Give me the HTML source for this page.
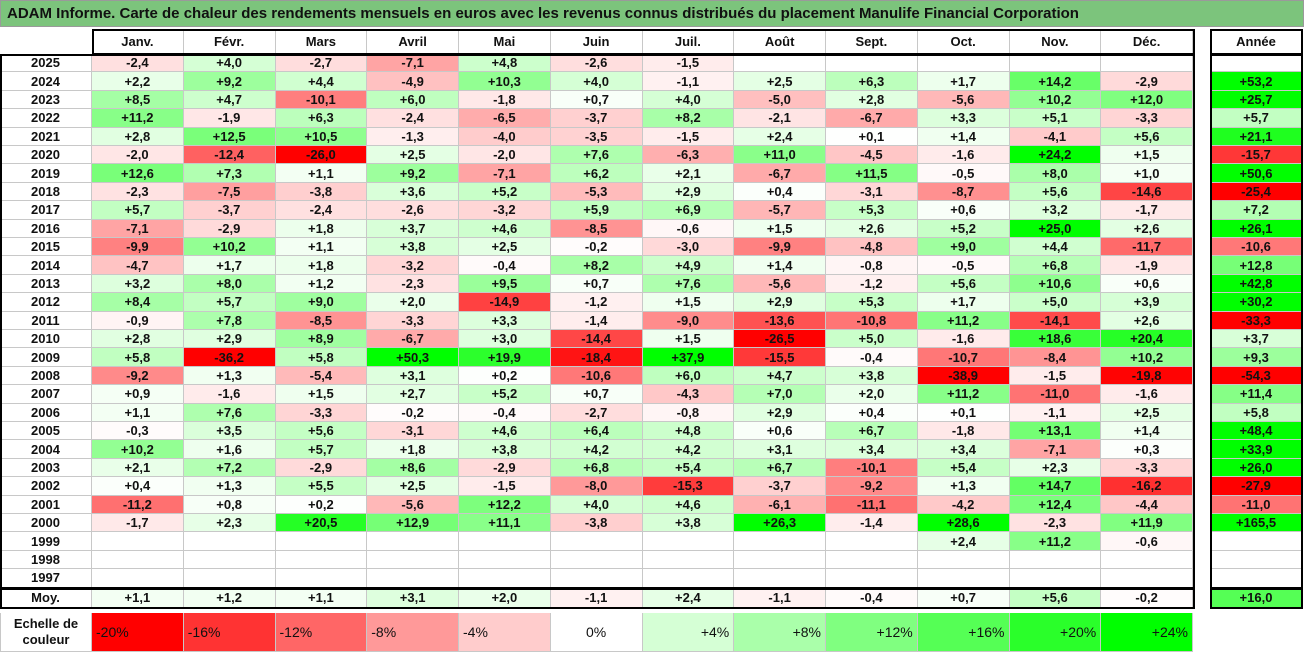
<!DOCTYPE html>
<html><head><meta charset="utf-8">
<style>
body{margin:0;width:1304px;height:652px;background:#fff;position:relative;overflow:hidden;font-family:"Liberation Sans",sans-serif;font-weight:bold;font-size:13px;color:#111}
.c{position:absolute;box-sizing:border-box;display:flex;align-items:center;justify-content:center;border-right:1px solid #c8c8c8;border-bottom:1px solid #c8c8c8}
.box{position:absolute;box-sizing:border-box;border:2px solid #000;pointer-events:none}
#title{position:absolute;left:0;top:0;width:1304px;height:27px;background:#7cc47c;border:1px solid #9a9a9a;box-sizing:border-box;font-size:15px;padding-left:6px;display:flex;align-items:center}
</style></head><body>
<div id="title">ADAM Informe. Carte de chaleur des rendements mensuels en euros avec les revenus connus distribués du placement Manulife Financial Corporation</div>
<div id="root"></div>
<script>
const months=["Janv.","Févr.","Mars","Avril","Mai","Juin","Juil.","Août","Sept.","Oct.","Nov.","Déc."];
const years=[2025,2024,2023,2022,2021,2020,2019,2018,2017,2016,2015,2014,2013,2012,2011,2010,2009,2008,2007,2006,2005,2004,2003,2002,2001,2000,1999,1998,1997];
const N=null;
const values=[
[-2.4,4.0,-2.7,-7.1,4.8,-2.6,-1.5,N,N,N,N,N],
[2.2,9.2,4.4,-4.9,10.3,4.0,-1.1,2.5,6.3,1.7,14.2,-2.9],
[8.5,4.7,-10.1,6.0,-1.8,0.7,4.0,-5.0,2.8,-5.6,10.2,12.0],
[11.2,-1.9,6.3,-2.4,-6.5,-3.7,8.2,-2.1,-6.7,3.3,5.1,-3.3],
[2.8,12.5,10.5,-1.3,-4.0,-3.5,-1.5,2.4,0.1,1.4,-4.1,5.6],
[-2.0,-12.4,-26.0,2.5,-2.0,7.6,-6.3,11.0,-4.5,-1.6,24.2,1.5],
[12.6,7.3,1.1,9.2,-7.1,6.2,2.1,-6.7,11.5,-0.5,8.0,1.0],
[-2.3,-7.5,-3.8,3.6,5.2,-5.3,2.9,0.4,-3.1,-8.7,5.6,-14.6],
[5.7,-3.7,-2.4,-2.6,-3.2,5.9,6.9,-5.7,5.3,0.6,3.2,-1.7],
[-7.1,-2.9,1.8,3.7,4.6,-8.5,-0.6,1.5,2.6,5.2,25.0,2.6],
[-9.9,10.2,1.1,3.8,2.5,-0.2,-3.0,-9.9,-4.8,9.0,4.4,-11.7],
[-4.7,1.7,1.8,-3.2,-0.4,8.2,4.9,1.4,-0.8,-0.5,6.8,-1.9],
[3.2,8.0,1.2,-2.3,9.5,0.7,7.6,-5.6,-1.2,5.6,10.6,0.6],
[8.4,5.7,9.0,2.0,-14.9,-1.2,1.5,2.9,5.3,1.7,5.0,3.9],
[-0.9,7.8,-8.5,-3.3,3.3,-1.4,-9.0,-13.6,-10.8,11.2,-14.1,2.6],
[2.8,2.9,8.9,-6.7,3.0,-14.4,1.5,-26.5,5.0,-1.6,18.6,20.4],
[5.8,-36.2,5.8,50.3,19.9,-18.4,37.9,-15.5,-0.4,-10.7,-8.4,10.2],
[-9.2,1.3,-5.4,3.1,0.2,-10.6,6.0,4.7,3.8,-38.9,-1.5,-19.8],
[0.9,-1.6,1.5,2.7,5.2,0.7,-4.3,7.0,2.0,11.2,-11.0,-1.6],
[1.1,7.6,-3.3,-0.2,-0.4,-2.7,-0.8,2.9,0.4,0.1,-1.1,2.5],
[-0.3,3.5,5.6,-3.1,4.6,6.4,4.8,0.6,6.7,-1.8,13.1,1.4],
[10.2,1.6,5.7,1.8,3.8,4.2,4.2,3.1,3.4,3.4,-7.1,0.3],
[2.1,7.2,-2.9,8.6,-2.9,6.8,5.4,6.7,-10.1,5.4,2.3,-3.3],
[0.4,1.3,5.5,2.5,-1.5,-8.0,-15.3,-3.7,-9.2,1.3,14.7,-16.2],
[-11.2,0.8,0.2,-5.6,12.2,4.0,4.6,-6.1,-11.1,-4.2,12.4,-4.4],
[-1.7,2.3,20.5,12.9,11.1,-3.8,3.8,26.3,-1.4,28.6,-2.3,11.9],
[N,N,N,N,N,N,N,N,N,2.4,11.2,-0.6],
[N,N,N,N,N,N,N,N,N,N,N,N],
[N,N,N,N,N,N,N,N,N,N,N,N]];
const annual=[N,53.2,25.7,5.7,21.1,-15.7,50.6,-25.4,7.2,26.1,-10.6,12.8,42.8,30.2,-33.3,3.7,9.3,-54.3,11.4,5.8,48.4,33.9,26.0,-27.9,-11.0,165.5,N,N,N];
const avgMonth=[1.1,1.2,1.1,3.1,2.0,-1.1,2.4,-1.1,-0.4,0.7,5.6,-0.2];
const avgYear=16.0;
const scale=[-20,-16,-12,-8,-4,0,4,8,12,16,20,24];

const root=document.getElementById('root');
const X0=92,CW=91.75,RH=18.4,Y0=54,HY=29;
function col(v){if(v==null)return '#fff';
 if(v<0){const t=Math.min(1,-v/20);const g=Math.round(255*(1-t));return `rgb(255,${g},${g})`;}
 const t=Math.min(1,v/24);const g=Math.round(255*(1-t));return `rgb(${g},255,${g})`;}
function fmt(v){return (v>0?'+':v<0?'-':'')+Math.abs(v).toFixed(1).replace('.',',');}
function cell(x,y,w,h,txt,bg,name,extra){const d=document.createElement('div');d.className='c';
 d.style.cssText=`left:${x}px;top:${y}px;width:${w}px;height:${h}px;background:${bg};`+(extra||'');
 d.textContent=txt;
 
 
 root.appendChild(d);return d;}
function box(x,y,w,h,name){const d=document.createElement('div');d.className='box';
 d.style.cssText=`left:${x}px;top:${y}px;width:${w}px;height:${h}px;`;
 
 
 root.appendChild(d);}
months.forEach((m,i)=>cell(X0+i*CW,HY,CW,Y0-HY,m,'#fff','month-header'));
years.forEach((y,r)=>{
 cell(0,Y0+r*RH,X0,RH,String(y),'#fff','year-label');
 values[r].forEach((v,i)=>cell(X0+i*CW,Y0+r*RH,CW,RH,v==null?'':fmt(v),col(v),'heatmap-cell'));
 cell(1211,Y0+r*RH,91,RH,annual[r]==null?'':fmt(annual[r]),col(annual[r]),'annual-cell');
});
const MY=Y0+years.length*RH;
cell(0,MY,X0,20,'Moy.','#fff','average-label');
avgMonth.forEach((v,i)=>cell(X0+i*CW,MY,CW,20,fmt(v),col(v),'average-cell'));
cell(1211,MY,91,20,fmt(avgYear),col(avgYear),'annual-average-cell');
cell(1211,HY,91,Y0-HY,'Année','#fff','annual-header');
box(X0,HY,12*CW+2,Y0-HY+1,'header-frame');
box(0,Y0,X0+12*CW+2,MY-Y0+1,'data-frame');
box(0,MY,X0+12*CW+2,21,'average-frame');
box(1210,HY,93,Y0-HY+1,'annual-header-frame');
box(1210,Y0,93,MY-Y0+1,'annual-frame');
box(1210,MY,93,21,'annual-average-frame');
const LY=613,LH=39;
cell(0,LY,X0,LH,'Echelle de couleur','#fff','legend-title','text-align:center;line-height:16px;border-left:1px solid #c8c8c8;');
scale.forEach((v,i)=>{const t=(v>0?'+':'')+v+'%';
 cell(X0+i*CW,LY,CW,LH,t,col(v),'legend-swatch',v<0?'justify-content:flex-start;padding-left:4px;font-weight:normal;font-size:14px;':v>0?'justify-content:flex-end;padding-right:4px;font-weight:normal;font-size:14px;':'font-weight:normal;font-size:14px;');});
</script>
</body></html>
